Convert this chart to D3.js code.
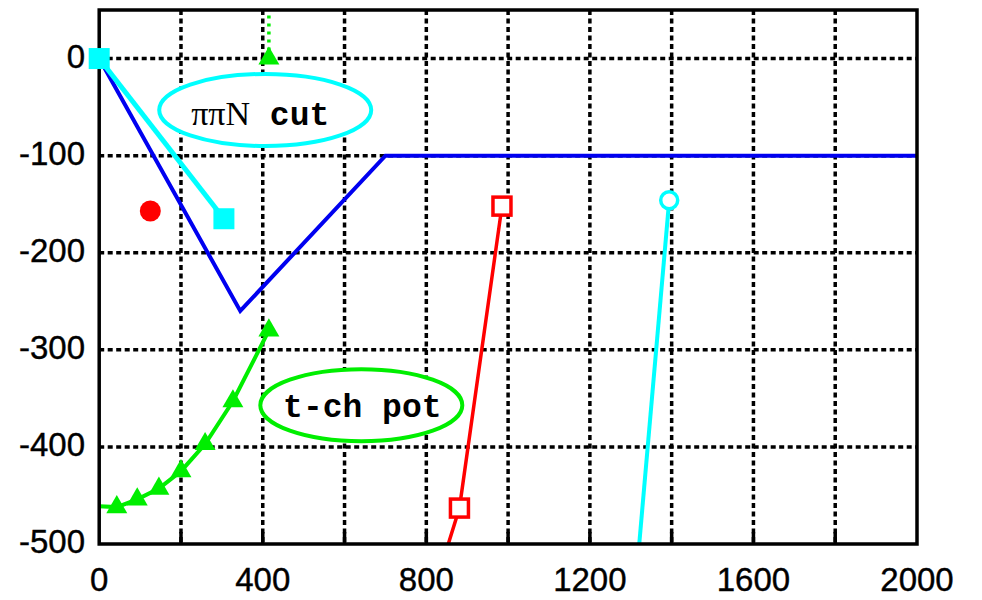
<!DOCTYPE html>
<html><head><meta charset="utf-8">
<script src="https://cdn.jsdelivr.net/npm/d3@7"></script>
<style>body{margin:0;background:#fff}svg{display:block}</style>
</head><body>
<svg id="c" width="982" height="600"></svg>
<script>
// ---- data ----
const xTicks = [0, 400, 800, 1200, 1600, 2000];
const xGrid = [200, 400, 600, 800, 1000, 1200, 1400, 1600, 1800];
const yTicks = [0, -100, -200, -300, -400, -500];
const yGrid = [0, -100, -200, -300, -400];

const blueX = [0, 345, 700, 2000];
const blueY = [0, -260, -100, -100];

const cyanX = [0, 305];
const cyanY = [0, -165];

const redDotX = [125];
const redDotY = [-157];

const greenX = [0, 43, 93, 146, 200, 259, 327, 415];
const greenY = [-461, -462, -454, -443, -425, -397, -353, -280];
const greenMarked = [false, true, true, true, true, true, true, true];

const greenTopX = [415, 415];
const greenTopY = [0, 70];

const redX = [985, 881, 780];
const redY = [-152, -463, -600];
const redMarked = [true, true, false];

const cyanOX = [1394, 1300];
const cyanOY = [-146, -600];
const cyanOMarked = [true, false];

const labelCut = {x: 406, y: -53, text1: "\u03c0\u03c0N", text2: " cut"};
const labelT = {x: 641, y: -357, text: "t-ch pot"};

// ---- chart ----
const svg = d3.select("#c");
const L = 99.2, R = 917, T = 10, B = 544;
const x = d3.scaleLinear().domain([0, 2000]).range([L, R]);
const y = d3.scaleLinear().domain([-500, 50]).range([B, T]);

const zip = (xs, ys) => xs.map((v, i) => [v, ys[i]]);
const line = d3.line().x(d => x(d[0])).y(d => y(d[1]));

svg.append("defs").append("clipPath").attr("id", "clip")
  .append("rect").attr("x", L).attr("y", T).attr("width", R - L).attr("height", B - T);

// grid
const g = svg.append("g");
g.selectAll(".vg").data(xGrid).join("line")
  .attr("x1", d => x(d)).attr("x2", d => x(d)).attr("y1", T).attr("y2", B)
  .attr("stroke", "#000").attr("stroke-width", 3.5).attr("stroke-dasharray", "5,3.5");
g.selectAll(".hg").data(yGrid).join("line")
  .attr("y1", d => y(d)).attr("y2", d => y(d)).attr("x1", L).attr("x2", R)
  .attr("stroke", "#000").attr("stroke-width", 3.5).attr("stroke-dasharray", "5,3.5");

// bottom ticks
g.selectAll(".bt").data(xGrid).join("line")
  .attr("x1", d => x(d)).attr("x2", d => x(d)).attr("y1", B).attr("y2", B - 12)
  .attr("stroke", "#000").attr("stroke-width", 3.5);

// annotation ellipses
const ann = svg.append("g");
ann.append("ellipse").attr("cx", x(labelCut.x)).attr("cy", y(labelCut.y))
  .attr("rx", 106).attr("ry", 36).attr("fill", "#fff")
  .attr("stroke", "#00ffff").attr("stroke-width", 4);
ann.append("ellipse").attr("cx", x(labelT.x)).attr("cy", y(labelT.y))
  .attr("rx", 101).attr("ry", 36).attr("fill", "#fff")
  .attr("stroke", "#00ee00").attr("stroke-width", 4);

const t1 = ann.append("text").attr("x", x(labelCut.x) - 5).attr("y", y(labelCut.y) + 15)
  .attr("text-anchor", "middle").attr("fill", "#000");
t1.append("tspan").attr("font-family", "Liberation Serif, serif").attr("font-size", 34).text(labelCut.text1);
t1.append("tspan").attr("font-family", "Liberation Mono, monospace").attr("font-weight", "bold")
  .attr("font-size", 33).style("white-space", "pre").text(labelCut.text2);

ann.append("text").attr("x", x(labelT.x) + 1).attr("y", y(labelT.y) + 12)
  .attr("text-anchor", "middle").attr("font-family", "Liberation Mono, monospace")
  .attr("font-weight", "bold").attr("font-size", 33).attr("fill", "#000").text(labelT.text);

// lines
const lines = svg.append("g").attr("clip-path", "url(#clip)");
lines.append("path").attr("d", line(zip(blueX, blueY))).attr("fill", "none")
  .attr("stroke", "#0000f0").attr("stroke-width", 4);
lines.append("path").attr("d", line(zip(cyanX, cyanY))).attr("fill", "none")
  .attr("stroke", "#00ffff").attr("stroke-width", 5);
lines.append("path").attr("d", line(zip(greenX, greenY))).attr("fill", "none")
  .attr("stroke", "#00ee00").attr("stroke-width", 4);
lines.append("path").attr("d", line(zip(greenTopX, greenTopY))).attr("fill", "none")
  .attr("stroke", "#00ee00").attr("stroke-width", 3.5).attr("stroke-dasharray", "3,5");
lines.append("path").attr("d", line(zip(redX, redY))).attr("fill", "none")
  .attr("stroke", "#ff0000").attr("stroke-width", 3.5);
lines.append("path").attr("d", line(zip(cyanOX, cyanOY))).attr("fill", "none")
  .attr("stroke", "#00ffff").attr("stroke-width", 4);

// frame
svg.append("rect").attr("x", L).attr("y", T).attr("width", R - L).attr("height", B - T)
  .attr("fill", "none").attr("stroke", "#000").attr("stroke-width", 3.5);

// markers
const mk = svg.append("g");
mk.selectAll(".cs").data(zip(cyanX, cyanY)).join("rect")
  .attr("x", d => x(d[0]) - 10.5).attr("y", d => y(d[1]) - 10.5)
  .attr("width", 21).attr("height", 21).attr("fill", "#00ffff");
mk.selectAll(".rd").data(zip(redDotX, redDotY)).join("circle")
  .attr("cx", d => x(d[0])).attr("cy", d => y(d[1])).attr("r", 10.5).attr("fill", "#ff0000");
const tri = d3.symbol().type(d3.symbolTriangle).size(190);
mk.selectAll(".gt").data(zip(greenX, greenY).filter((d, i) => greenMarked[i]).concat([[greenTopX[0], greenTopY[0]]]))
  .join("path").attr("d", tri)
  .attr("transform", d => `translate(${x(d[0])},${y(d[1])})`).attr("fill", "#00ee00");
mk.selectAll(".rs").data(zip(redX, redY).filter((d, i) => redMarked[i])).join("rect")
  .attr("x", d => x(d[0]) - 9).attr("y", d => y(d[1]) - 9)
  .attr("width", 18).attr("height", 18).attr("fill", "#fff")
  .attr("stroke", "#ff0000").attr("stroke-width", 3.5);
mk.selectAll(".co").data(zip(cyanOX, cyanOY).filter((d, i) => cyanOMarked[i])).join("circle")
  .attr("cx", d => x(d[0])).attr("cy", d => y(d[1])).attr("r", 8.5).attr("fill", "#fff")
  .attr("stroke", "#00ffff").attr("stroke-width", 3.5);

// tick labels
const lab = svg.append("g").attr("font-family", "Liberation Sans, Arial, sans-serif")
  .attr("font-size", 33).attr("fill", "#000").attr("stroke", "#000").attr("stroke-width", 0.4);
lab.selectAll(".xl").data(xTicks).join("text")
  .attr("x", d => x(d)).attr("y", 591).attr("text-anchor", "middle").text(d => d);
lab.selectAll(".yl").data(yTicks).join("text")
  .attr("x", 85).attr("y", d => y(d) + 9).attr("text-anchor", "end").text(d => d);
</script>
</body></html>
